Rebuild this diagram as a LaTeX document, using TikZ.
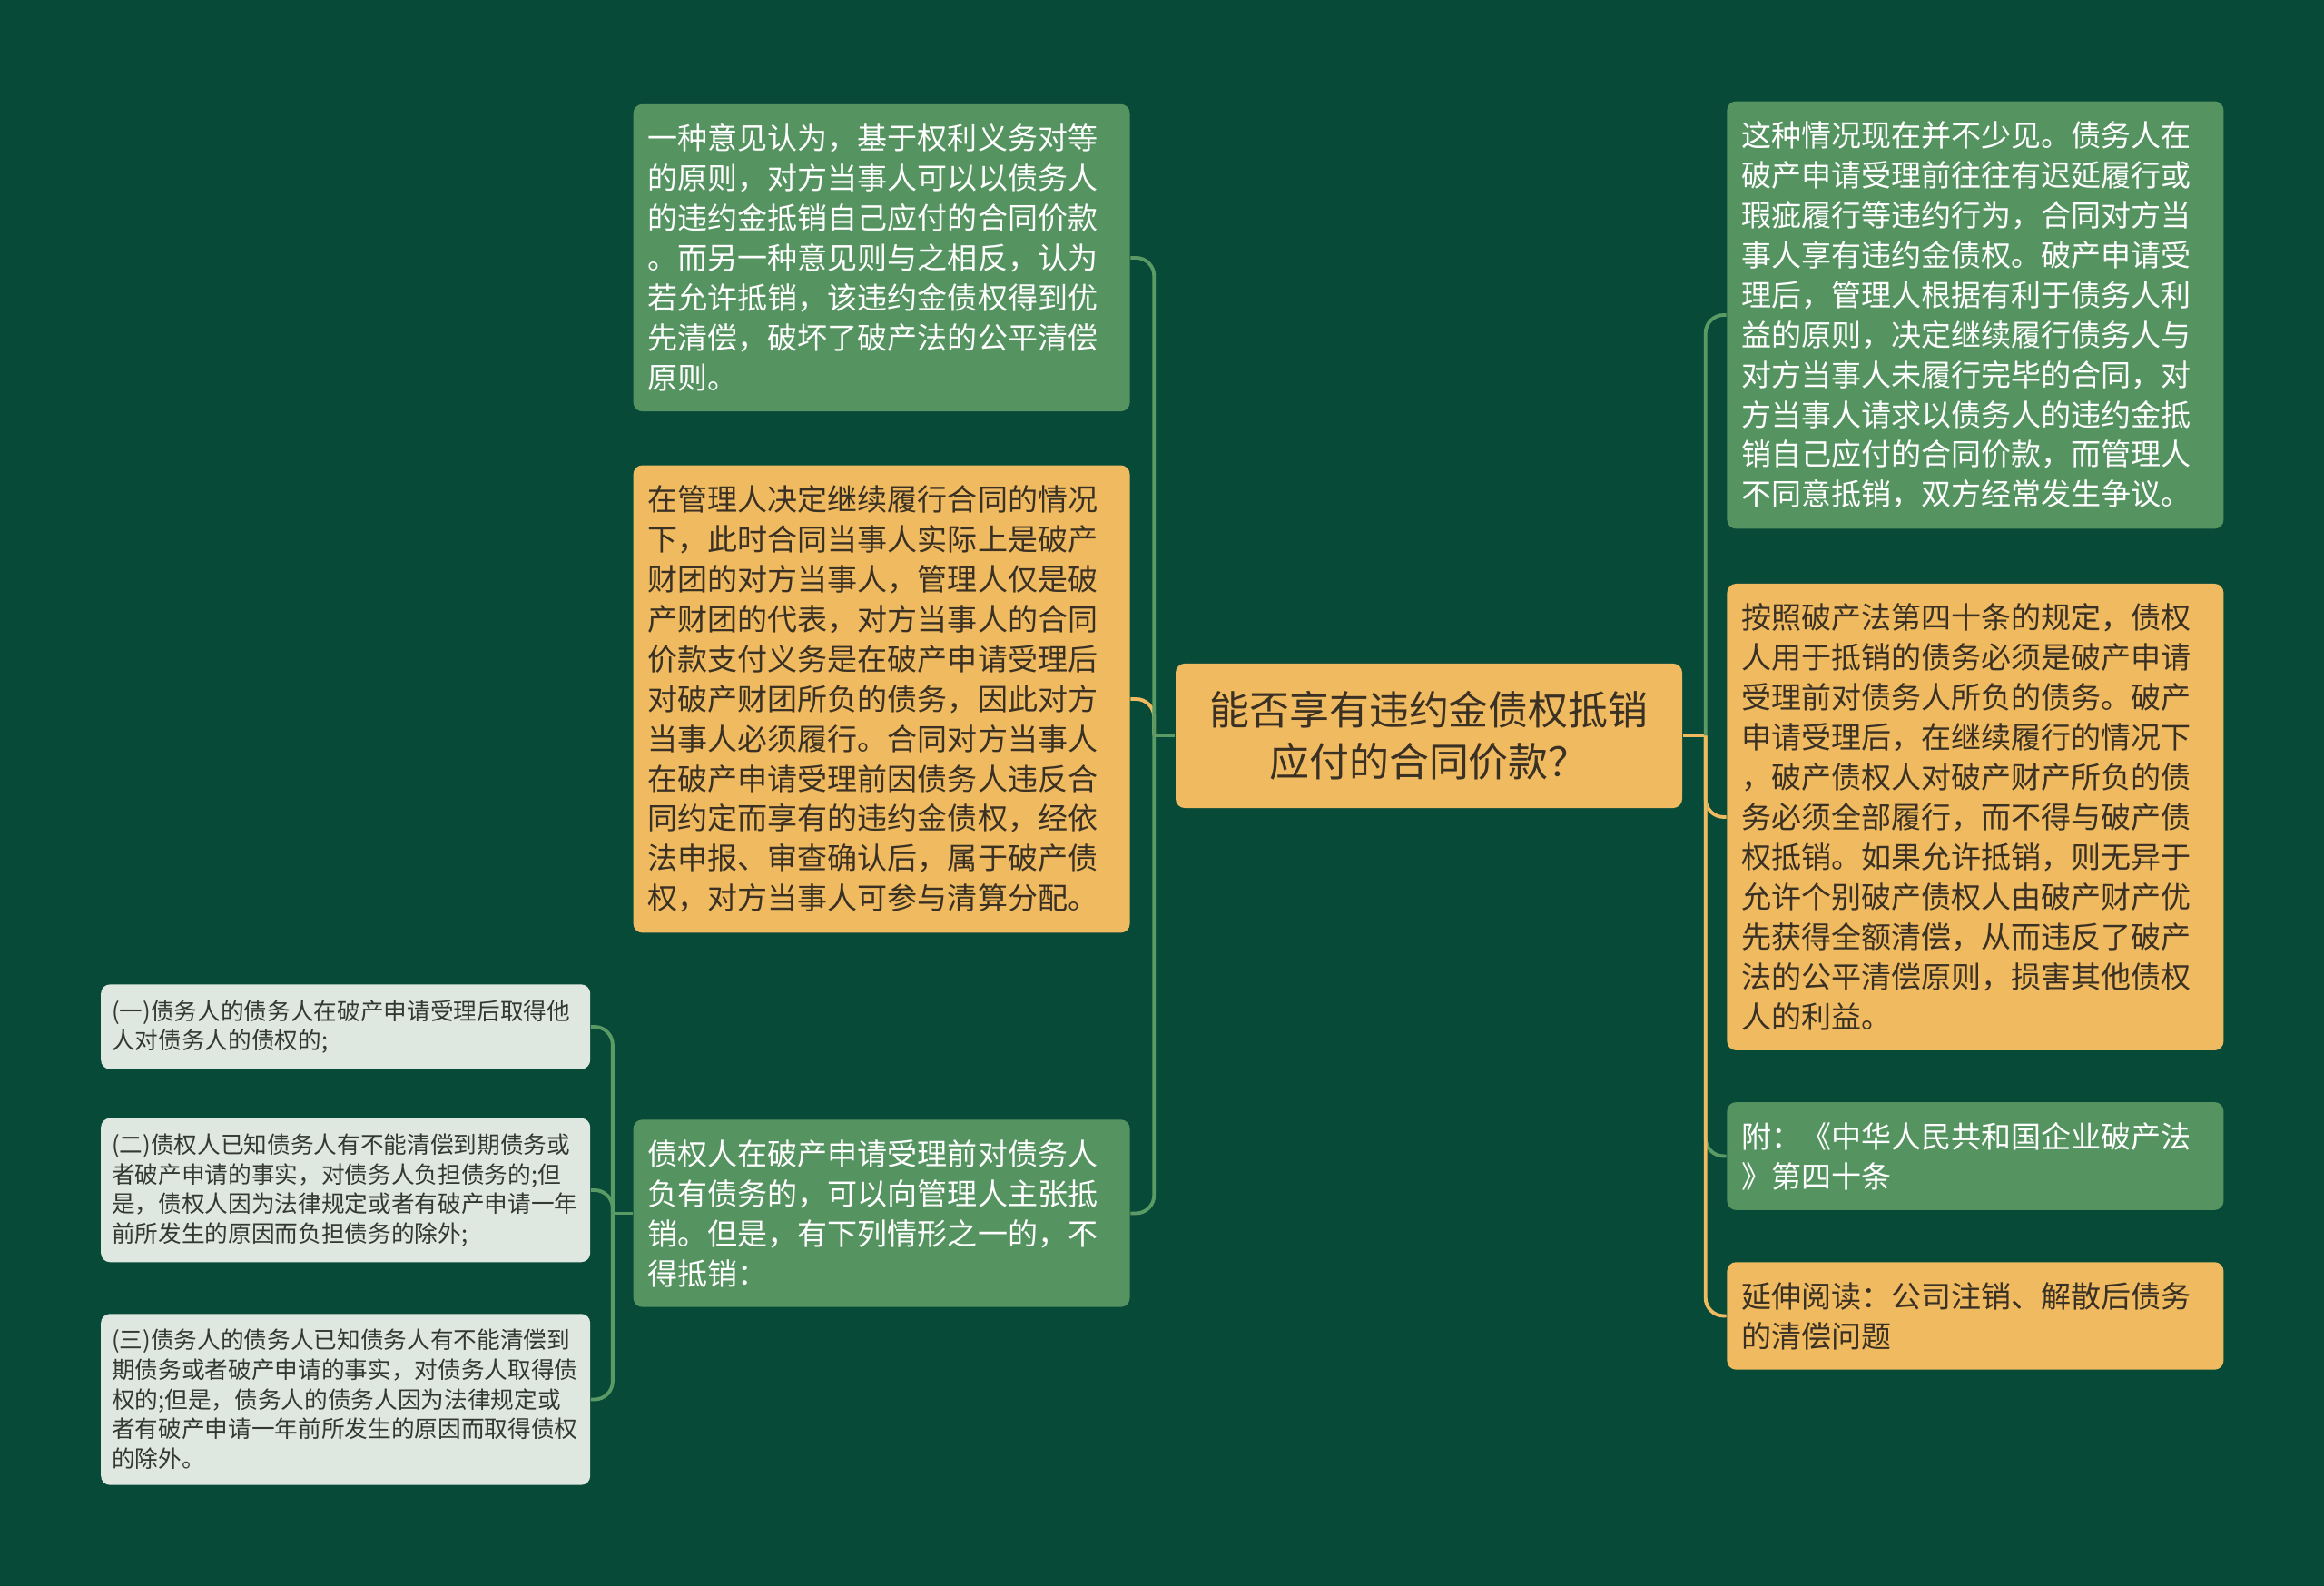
\documentclass[tikz,border=0pt]{standalone}
\usepackage{fontspec}
\setmainfont{Noto Sans CJK SC}

\definecolor{bgcol}{HTML}{084A38}
\definecolor{boxgreen}{HTML}{559460}
\definecolor{boxorange}{HTML}{F0BB60}
\definecolor{boxlight}{HTML}{DFE8E0}
\definecolor{linkgreen}{HTML}{5A9A64}
\definecolor{textdark}{HTML}{3A3124}
\definecolor{textgray}{HTML}{333833}

\tikzset{bb/.style={inner xsep=0.16cm, inner ysep=0.22cm, rounded corners=0.1cm, text width=5.15cm, align=left, font=\fontsize{9.4pt}{12.5pt}\selectfont}}
\tikzset{gbb/.style={bb, fill=boxgreen, text=white}}
\tikzset{obb/.style={bb, fill=boxorange, text=textdark}}
\tikzset{lbb/.style={bb, fill=boxlight, text=textgray, inner xsep=0.12cm, inner ysep=0.17cm, font=\fontsize{7.3pt}{9.3pt}\selectfont}}
\tikzset{link/.style={line width=1.1pt, rounded corners=0.2cm}}

\begin{document}
\begin{tikzpicture}[]
    \fill[bgcol] (0,0) rectangle (25.6,17.47);

    \node[obb, text width=4.84cm, inner xsep=0.37cm, inner ysep=0.305cm, align=center, font=\fontsize{12.5pt}{16.2pt}\selectfont](main) at (15.74,9.365) {能否享有违约金债权抵销\\应付的合同价款？};

    \node[gbb, anchor = east] (opinion) at ([yshift=5.265cm, xshift = -0.49cm] main.west) {一种意见认为，基于权利义务对等\\的原则，对方当事人可以以债务人\\的违约金抵销自己应付的合同价款\\。而另一种意见则与之相反，认为\\若允许抵销，该违约金债权得到优\\先清偿，破坏了破产法的公平清偿\\原则。};

    \node[obb, anchor = east] (estate) at ([yshift=0.405cm, xshift = -0.49cm] main.west) {在管理人决定继续履行合同的情况\\下，此时合同当事人实际上是破产\\财团的对方当事人，管理人仅是破\\产财团的代表，对方当事人的合同\\价款支付义务是在破产申请受理后\\对破产财团所负的债务，因此对方\\当事人必须履行。合同对方当事人\\在破产申请受理前因债务人违反合\\同约定而享有的违约金债权，经依\\法申报、审查确认后，属于破产债\\权，对方当事人可参与清算分配。};

    \node[gbb, anchor = east] (claim) at ([yshift=-5.26cm, xshift = -0.49cm] main.west) {债权人在破产申请受理前对债务人\\负有债务的，可以向管理人主张抵\\销。但是，有下列情形之一的，不\\得抵销：};

    \node[lbb, anchor = east] (case_one) at ([yshift=2.055cm, xshift = -0.46cm] claim.west) {(一)债务人的债务人在破产申请受理后取得他\\人对债务人的债权的;};

    \node[lbb, anchor = east] (case_two) at ([yshift=0.255cm, xshift = -0.46cm] claim.west) {(二)债权人已知债务人有不能清偿到期债务或\\者破产申请的事实，对债务人负担债务的;但\\是，债权人因为法律规定或者有破产申请一年\\前所发生的原因而负担债务的除外;};

    \node[lbb, anchor = east] (case_three) at ([yshift=-2.05cm, xshift = -0.46cm] claim.west) {(三)债务人的债务人已知债务人有不能清偿到\\期债务或者破产申请的事实，对债务人取得债\\权的;但是，债务人的债务人因为法律规定或\\者有破产申请一年前所发生的原因而取得债权\\的除外。};

    \node[gbb, anchor = west] (dispute) at ([yshift=4.635cm, xshift = 0.48cm] main.east) {这种情况现在并不少见。债务人在\\破产申请受理前往往有迟延履行或\\瑕疵履行等违约行为，合同对方当\\事人享有违约金债权。破产申请受\\理后，管理人根据有利于债务人利\\益的原则，决定继续履行债务人与\\对方当事人未履行完毕的合同，对\\方当事人请求以债务人的违约金抵\\销自己应付的合同价款，而管理人\\不同意抵销，双方经常发生争议。};

    \node[obb, anchor = west] (article) at ([yshift=-0.895cm, xshift = 0.48cm] main.east) {按照破产法第四十条的规定，债权\\人用于抵销的债务必须是破产申请\\受理前对债务人所负的债务。破产\\申请受理后，在继续履行的情况下\\，破产债权人对破产财产所负的债\\务必须全部履行，而不得与破产债\\权抵销。如果允许抵销，则无异于\\允许个别破产债权人由破产财产优\\先获得全额清偿，从而违反了破产\\法的公平清偿原则，损害其他债权\\人的利益。};

    \node[gbb, anchor = west] (appendix) at ([yshift=-4.63cm, xshift = 0.48cm] main.east) {附：《中华人民共和国企业破产法\\》第四十条};

    \node[obb, anchor = west] (reading) at ([yshift=-6.39cm, xshift = 0.48cm] main.east) {延伸阅读：公司注销、解散后债务\\的清偿问题};

    \coordinate (lhub) at ([xshift=-0.23cm] main.west);
    \coordinate (rhub) at ([xshift=0.25cm] main.east);
    \coordinate (chub) at ([xshift=-0.22cm] claim.west);

    \draw[link, linkgreen] (main.west) -- (lhub);
    \draw[link, boxorange] (lhub) |- (estate.east);
    \draw[link, linkgreen] (lhub) |- (opinion.east);
    \draw[link, linkgreen] (lhub) |- (claim.east);

    \draw[link, linkgreen] (claim.west) -- (chub);
    \draw[link, linkgreen] (chub) |- (case_one.east);
    \draw[link, linkgreen] (chub) |- (case_two.east);
    \draw[link, linkgreen] (chub) |- (case_three.east);

    \draw[link, boxorange] (main.east) -- (rhub);
    \draw[link, linkgreen] (rhub) |- (dispute.west);
    \draw[link, boxorange] (rhub) |- (article.west);
    \draw[link, linkgreen] (rhub) |- (appendix.west);
    \draw[link, boxorange] (rhub) |- (reading.west);

    \end{tikzpicture}
\end{document}
